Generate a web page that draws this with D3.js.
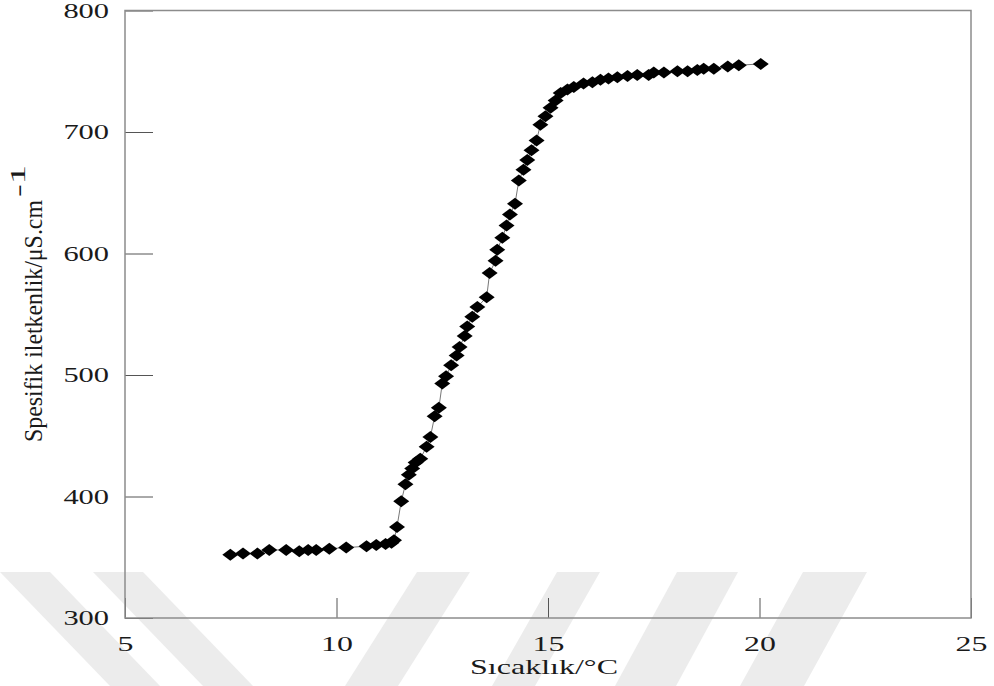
<!DOCTYPE html>
<html><head><meta charset="utf-8">
<script src="https://cdn.jsdelivr.net/npm/d3@7/dist/d3.min.js"></script>
<style>body{margin:0;background:#fff}svg{display:block}</style>
</head><body><svg id="c" width="994" height="686"></svg>
<script>
// ---- data ----
const temperature = [7.49,7.79,8.13,8.41,8.81,9.12,9.33,9.52,9.83,10.23,10.71,10.94,11.16,11.30,11.36,
  11.43,11.53,11.63,11.71,11.79,11.87,11.98,12.13,12.22,12.32,12.42,12.50,12.59,12.71,12.84,12.91,13.03,
  13.09,13.21,13.33,13.55,13.62,13.76,13.80,13.92,14.02,14.10,14.22,14.31,14.42,14.51,14.61,14.73,14.82,
  14.94,15.06,15.18,15.30,15.46,15.61,15.84,16.05,16.24,16.43,16.64,16.88,17.11,17.38,17.50,17.74,18.06,
  18.30,18.53,18.68,18.92,19.25,19.51,20.03];
const conductivity = [352,353,353,356,356,355,356,356,357,358,359,360,361,362,364,
  375,396,410,418,423,428,431,441,449,466,473,493,499,508,516,523,532,
  540,548,556,564,584,594,603,613,623,632,641,660,669,677,685,693,706,
  713,720,726,732,735,737,740,741,743,744,745,746,747,747,749,749,750,
  750,751,752,752,754,755,756];
const xTicks = [5,10,15,20,25];
const yTicks = [300,400,500,600,700,800];
const xDomain = [5,25];
const yDomain = [300,800];
const xLabel = "Sıcaklık/°C";
const yLabel = "Spesifik iletkenlik/μS.cm";
const yLabelSup = "-1";

const points = temperature.map((t,i)=>({x:t,y:conductivity[i]}));

const svg = d3.select("#c");
const L=125, T=10.5, R=971, B=618;
const x = d3.scaleLinear().domain(xDomain).range([L,R]);
const y = d3.scaleLinear().domain(yDomain).range([B,T]);
const FONT = "'Liberation Serif','Times New Roman',serif";
const SX = 1.45; // horizontal stretch of the original picture

// ---- faint watermark bands (decoration) ----
const wmTop=572, wmBot=686;
const bands = [
  [[0,50],[110,160]],
  [[93,143],[203,253]],
  [[417,470],[345,398]],
  [[557,600],[492,535]],
  [[677,738],[615,676]],
  [[803,867],[740,804]]
];
svg.append("g").selectAll("path").data(bands).join("path")
  .attr("d",d=>`M${d[0][0]},${wmTop}L${d[0][1]},${wmTop}L${d[1][1]},${wmBot}L${d[1][0]},${wmBot}Z`)
  .attr("fill","#ececec");

// ---- axes ----
const xAxis = svg.append("g").attr("transform",`translate(0,${B})`)
  .call(d3.axisBottom(x).tickValues(xTicks).tickSizeInner(-20).tickSizeOuter(0).tickPadding(17));
const yAxis = svg.append("g").attr("transform",`translate(${L},0)`)
  .call(d3.axisLeft(y).tickValues(yTicks).tickSizeInner(-28).tickSizeOuter(0).tickPadding(11));
[xAxis,yAxis].forEach(a=>{
  a.select(".domain").remove();
  a.selectAll(".tick line").attr("stroke","#555").attr("stroke-width",1);
  a.selectAll(".tick text").attr("font-family",FONT).attr("fill","#1a1a1a")
   .attr("transform",`scale(${SX},1)`);
});
xAxis.selectAll(".tick text").attr("font-size",22);
yAxis.selectAll(".tick text").attr("font-size",21);

// frame
svg.append("rect").attr("x",L).attr("y",T).attr("width",R-L).attr("height",B-T)
  .attr("fill","none").attr("stroke","#8c8c8c").attr("stroke-width",1.5);

// ---- data line + markers ----
svg.append("path").datum(points)
  .attr("d",d3.line().x(d=>x(d.x)).y(d=>y(d.y)))
  .attr("fill","none").attr("stroke","#777").attr("stroke-width",1);
svg.append("g").selectAll("path").data(points).join("path")
  .attr("d","M0,-6L8,0L0,6L-8,0Z")
  .attr("transform",d=>`translate(${x(d.x)},${y(d.y)})`)
  .attr("fill","#000");

// ---- axis titles ----
svg.append("text").attr("x",544).attr("y",674).attr("text-anchor","middle")
  .attr("font-family",FONT).attr("font-size",22).attr("fill","#1a1a1a")
  .attr("textLength",148).attr("lengthAdjust","spacingAndGlyphs").text(xLabel);

const yl = svg.append("g").attr("transform",`translate(42,442) rotate(-90) scale(1,${SX})`);
yl.append("text").attr("x",0).attr("y",0).attr("font-family",FONT).attr("font-size",18)
  .attr("fill","#1a1a1a").attr("textLength",242).attr("lengthAdjust","spacingAndGlyphs").text(yLabel);
yl.append("text").attr("x",245).attr("y",-12).attr("font-family",FONT).attr("font-size",15)
  .attr("fill","#1a1a1a").attr("textLength",32).attr("lengthAdjust","spacingAndGlyphs").text(yLabelSup);
</script></body></html>
